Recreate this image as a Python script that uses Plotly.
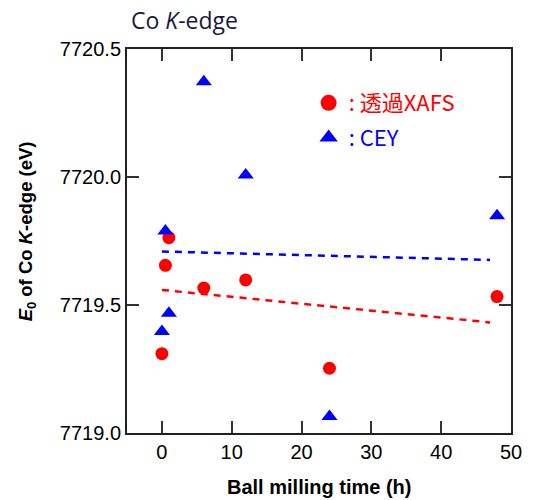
import plotly.graph_objects as go

# Data
xafs_time = [0, 0.5, 1, 6, 12, 24, 48]
xafs_e0 = [7719.31, 7719.655, 7719.763, 7719.566, 7719.598, 7719.253, 7719.533]
cey_time = [0, 0.5, 1, 6, 12, 24, 48]
cey_e0 = [7719.396, 7719.789, 7719.468, 7720.372, 7720.008, 7719.064, 7719.849]

fit_time = [0, 47]
xafs_fit = [7719.559, 7719.432]
cey_fit = [7719.709, 7719.676]

x_ticks = [0, 10, 20, 30, 40, 50]
y_ticks = [7719.0, 7719.5, 7720.0, 7720.5]
y_tick_labels = ["7719.0", "7719.5", "7720.0", "7720.5"]

RED = "#FF0000"
BLUE = "#0000FF"
SANS = "Liberation Sans"

fig = go.Figure()

fig.add_trace(go.Scatter(x=fit_time, y=xafs_fit, mode="lines",
                         line=dict(color=RED, width=2.5, dash="7px,6px"),
                         showlegend=False, hoverinfo="skip"))
fig.add_trace(go.Scatter(x=fit_time, y=cey_fit, mode="lines",
                         line=dict(color=BLUE, width=2.5, dash="7px,6px"),
                         showlegend=False, hoverinfo="skip"))

fig.add_trace(go.Scatter(x=xafs_time, y=xafs_e0, mode="markers", showlegend=False,
                         marker=dict(symbol="circle", size=13, color=RED)))
fig.add_trace(go.Scatter(x=cey_time, y=cey_e0, mode="markers", showlegend=False,
                         marker=dict(symbol="triangle-up", size=14, color=BLUE)))

# legend entries (larger symbols, as in the reference key)
fig.add_trace(go.Scatter(x=[None], y=[None], mode="markers",
                         name="<span style='color:#FF0000'>: 透過XAFS</span>",
                         legendgroup="a",
                         marker=dict(symbol="circle", size=16, color=RED)))
fig.add_trace(go.Scatter(x=[None], y=[None], mode="markers",
                         name="<span style='color:#0000FF'>: CEY</span>",
                         legendgroup="b",
                         marker=dict(symbol="triangle-up", size=16, color=BLUE)))

axis_common = dict(showline=True, linecolor="#222222", linewidth=2, mirror="ticks",
                   ticks="inside", ticklen=12, tickwidth=1.5, tickcolor="#333333",
                   showgrid=False, zeroline=False,
                   tickfont=dict(family=SANS, size=20, color="black"))

fig.update_layout(
    width=534, height=500,
    margin=dict(l=127, r=14, t=49, b=67),
    paper_bgcolor="white", plot_bgcolor="white",
    xaxis=dict(range=[-5, 50], tickvals=x_ticks, **axis_common),
    yaxis=dict(range=[7719.0, 7720.5], tickvals=y_ticks, ticktext=y_tick_labels,
               **axis_common),
    legend=dict(x=0.473, y=0.914, xanchor="left", yanchor="top",
                bgcolor="rgba(0,0,0,0)", tracegroupgap=3,
                itemsizing="trace",
                font=dict(family="Noto Sans CJK JP", size=22)),
    annotations=[
        dict(text="Co <i>K</i>-edge", xref="paper", yref="paper",
             x=0.005, y=1.0755, xanchor="left", yanchor="middle", showarrow=False,
             font=dict(family="Open Sans", size=23, color="#1a1a40")),
        dict(text="<b><i>E</i><sub>0</sub> of Co <i>K</i>-edge (eV)</b>", xref="paper", yref="paper",
             x=-0.2595, y=0.526, xanchor="center", yanchor="middle", textangle=-90,
             showarrow=False,
             font=dict(family=SANS, size=18.5, color="black")),
        dict(text="<b>Ball milling time (h)</b>", xref="paper", yref="paper",
             x=0.4987, y=-0.1406, xanchor="center", yanchor="middle", showarrow=False,
             font=dict(family=SANS, size=20, color="black")),
    ],
)

fig.write_html("out.html", config={"displayModeBar": False},
               post_script="document.body.style.margin='0';document.body.style.overflow='hidden';")
